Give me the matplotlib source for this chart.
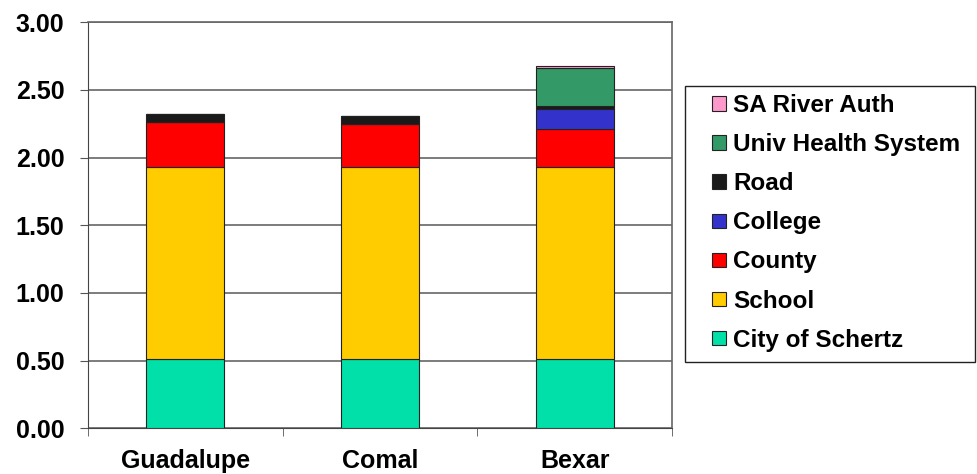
import matplotlib
matplotlib.use("Agg")
import matplotlib.pyplot as plt
import numpy as np
from matplotlib.patches import Patch, Rectangle

plt.rcParams['font.family'] = ['Liberation Sans', 'DejaVu Sans']
plt.rcParams['font.weight'] = 'bold'

counties = ['Guadalupe', 'Comal', 'Bexar']
city = [0.51, 0.51, 0.51]
school = [1.42, 1.42, 1.42]
county = [0.33, 0.32, 0.28]
college = [0.0, 0.0, 0.15]
road = [0.06, 0.06, 0.02]
uhs = [0.0, 0.0, 0.28]
river = [0.0, 0.0, 0.02]

series = [
    ('City of Schertz', city, '#00E0A8'),
    ('School', school, '#FFCC00'),
    ('County', county, '#FF0000'),
    ('College', college, '#3333CC'),
    ('Road', road, '#1A1A1A'),
    ('Univ Health System', uhs, '#339966'),
    ('SA River Auth', river, '#FF99CC'),
]

fig = plt.figure(figsize=(9.77, 4.74), dpi=100)
ax = fig.add_axes([0.090, 0.0962, 0.598, 0.857])

x = np.arange(len(counties))
bottom = np.zeros(len(counties))
handles = []
for name, vals, col in series:
    vals = np.array(vals)
    ax.bar(x, vals, 0.4, bottom=bottom, color=col, edgecolor='#222222',
           linewidth=0.8, zorder=3)
    bottom += vals
    handles.append(Patch(facecolor=col, edgecolor='#222222', linewidth=0.8, label=name))

ax.set_xlim(-0.5, 2.5)
ax.set_ylim(0, 3.0)
yt = np.arange(0, 3.01, 0.5)
ax.set_yticks(yt)
ax.set_yticklabels(['%.2f' % v for v in yt], fontsize=18, fontweight='bold')
ax.set_xticks(x)
ax.set_xticklabels(counties, fontsize=18, fontweight='bold')
ax.tick_params(axis='x', length=0, pad=15)
ax.set_xticks([-0.5, 0.5, 1.5, 2.5], minor=True)
ax.tick_params(axis='x', which='minor', length=6, color='#555555')
ax.tick_params(axis='y', length=6, color='#555555', pad=11)
ax.grid(axis='y', color='#666666', linewidth=1.2, zorder=0)

for s in ['left', 'bottom']:
    ax.spines[s].set_color('#444444')
for s in ['top', 'right']:
    ax.spines[s].set_color('#666666')
    ax.spines[s].set_linewidth(1.2)

# legend frame drawn separately so the entries can sit indented inside it
fig.patches.append(Rectangle((0.701, 0.236), 0.297, 0.582, transform=fig.transFigure,
                             fill=False, edgecolor='#222222', linewidth=1.0))
leg = fig.legend(handles=handles[::-1], loc='upper left',
                 bbox_to_anchor=(0.729, 0.801), frameon=False, borderpad=0,
                 borderaxespad=0, prop={'size': 17.5, 'weight': 'bold'},
                 handlelength=0.55, handleheight=0.55, handletextpad=0.3,
                 labelspacing=0.66)

fig.savefig('out.png', dpi=100)
